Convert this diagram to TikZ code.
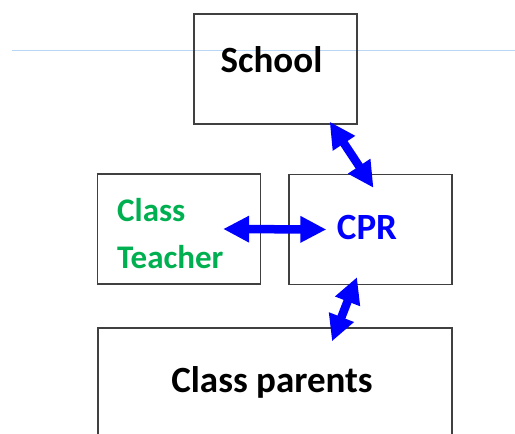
\documentclass[tikz,border=0pt]{standalone}
\usepackage{fontspec}
\setmainfont{Carlito}
\usepackage{xcolor}
\usepackage{tikz}
\usetikzlibrary{positioning,arrows.meta,calc}
\definecolor{ctgreen}{HTML}{00B050}
\definecolor{guideblue}{RGB}{185,215,245}

\begin{document}
\begin{tikzpicture}[x=1pt,y=-1pt,
                    every node/.style={font=\fontsize{37}{47}\selectfont\bfseries},
                    box/.style={draw=black!75,line width=1.3pt,
                                minimum width=163pt,minimum height=110pt,inner sep=0pt},
                    link/.style={{Triangle[length=26pt,width=25pt]}-{Triangle[length=26pt,width=25pt]},
                                 blue,line width=8.5pt}]
  \useasboundingbox (0,0) rectangle (515,434);
  \clip (0,0) rectangle (515,434);
  \coordinate (g1) at (12,50);
  \coordinate (g2) at (515,50);
  \draw[guideblue,line width=0.6pt] (g1) -- (g2);

  \node[box] (school)  at (275.5,69)  {};
  \node[box] (teacher) at (179,229)   {};
  \node[box] (cpr)     at (370.5,229.5) {};
  \node[box,minimum width=354pt,minimum height=132pt] (parents) at (275,394) {};

  \node[anchor=base] (schooltxt) at (271.5,72) {School};
  \node[anchor=base west,align=left,inner sep=0pt,text=ctgreen,
        font=\fontsize{33}{47}\selectfont\bfseries] (teachertxt) at (117,268) {Class\\Teacher};
  \node[anchor=base,text=blue] (cprtxt) at (367,239) {CPR};
  \node[anchor=base] (parentstxt) at (272,392) {Class parents};

  \draw[link] ([shift={(-28,-3)}]school.south east) -- ([shift={(3,14)}]cpr.north);
  \draw[link] ([xshift=-38pt]teacher.east) -- ([xshift=38pt]cpr.west);
  \draw[link] ([shift={(-13.5,-8)}]cpr.south) -- ([shift={(57,14)}]parents.north);
\end{tikzpicture}
\end{document}
